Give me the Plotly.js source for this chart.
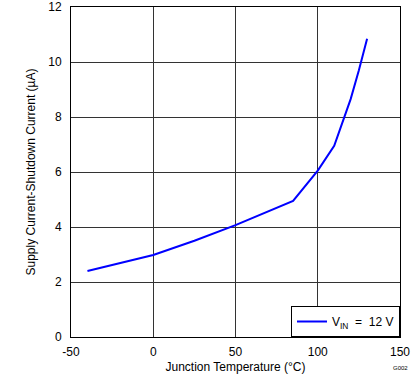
<!DOCTYPE html>
<html><head><meta charset="utf-8">
<script src="https://cdn.plot.ly/plotly-3.0.1.min.js"></script>
<style>html,body{margin:0;padding:0;background:#fff;}#chart{width:419px;height:382px;}</style>
</head><body><div id="chart"></div>
<script>
const temperature = [-40, -20, 0, 25, 50, 85, 100, 110, 116, 120, 125, 130];
const current = [2.4, 2.68, 2.98, 3.5, 4.07, 4.95, 6.05, 6.95, 8.0, 8.65, 9.7, 10.85];
const seriesName = 'V<sub>IN</sub>  =  12 V';
const xTicks = [-50, 0, 50, 100, 150];
const yTicks = [0, 2, 4, 6, 8, 10, 12];

const font = {family: 'Liberation Sans, Arial, sans-serif', size: 12, color: '#000'};
Plotly.newPlot('chart', [{
  x: temperature, y: current, type: 'scatter', mode: 'lines',
  name: seriesName, line: {color: '#0000ff', width: 2}
}], {
  width: 419, height: 382,
  margin: {l: 71, r: 19, t: 7, b: 45},
  paper_bgcolor: '#fff', plot_bgcolor: '#fff',
  font: font,
  showlegend: true,
  legend: {x: 1, y: 0, xanchor: 'right', yanchor: 'bottom', bgcolor: '#fff',
           bordercolor: '#000', borderwidth: 1, font: {family: font.family, size: 12, color: '#000'}},
  xaxis: {range: [-50, 150], tickvals: xTicks, ticktext: xTicks.map(String),
          showgrid: true, gridcolor: '#333', gridwidth: 1, zeroline: false,
          showline: true, linecolor: '#000', linewidth: 1, mirror: true,
          ticks: '', tickfont: font, ticklabelstandoff: 4,
          title: {text: 'Junction Temperature (°C)', font: font, standoff: 4}},
  yaxis: {range: [0, 12], tickvals: yTicks, ticktext: yTicks.map(String),
          showgrid: true, gridcolor: '#333', gridwidth: 1, zeroline: false,
          showline: true, linecolor: '#000', linewidth: 1, mirror: true,
          ticks: '', tickfont: font, ticklabelstandoff: 6,
          title: {text: 'Supply Current-Shutdown Current (µA)', font: font, standoff: 10}},
  annotations: [{text: 'G002', xref: 'paper', yref: 'paper', x: 1.03, y: -0.08,
                 xanchor: 'right', yanchor: 'top', showarrow: false,
                 font: {family: font.family, size: 6, color: '#000'}}]
}, {displayModeBar: false, staticPlot: true});
</script></body></html>
